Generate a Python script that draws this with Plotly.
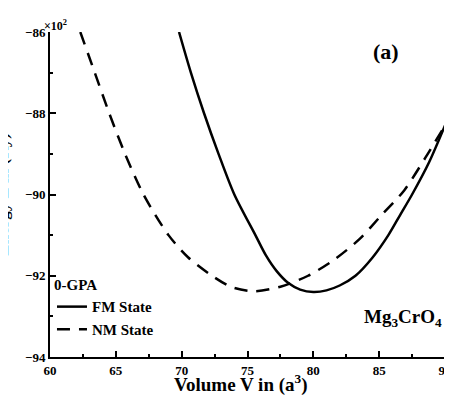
import plotly.graph_objects as go

# FM state (solid)
fm_volume = [69.8, 70.7, 71.7, 72.8, 74.0, 75.6, 76.4, 77.2, 78.1, 79.0, 80.0, 81.0, 82.0, 83.2, 84.5, 85.7, 86.6, 87.5, 88.8, 90.0]
fm_energy = [-86.0, -87.0, -88.0, -89.0, -90.0, -91.0, -91.5, -91.88, -92.18, -92.34, -92.40, -92.36, -92.24, -92.0, -91.55, -91.0, -90.5, -90.0, -89.2, -88.3]

# NM state (dashed)
nm_volume = [62.3, 63.4, 64.5, 65.7, 67.1, 69.0, 70.5, 72.3, 73.8, 75.5, 77.5, 79.6, 81.6, 83.5, 85.2, 86.9, 88.5, 90.0]
nm_energy = [-86.0, -87.0, -88.0, -89.0, -90.0, -91.0, -91.55, -92.0, -92.28, -92.38, -92.27, -92.0, -91.6, -91.1, -90.5, -89.9, -89.1, -88.3]

x_ticks = [60, 65, 70, 75, 80, 85, 90]
y_ticks = [-94, -92, -90, -88, -86]

FONT = "Liberation Serif"

fig = go.Figure()
fig.add_trace(go.Scatter(x=fm_volume, y=fm_energy, mode="lines", name="FM State",
                         line=dict(color="black", width=2.5, shape="spline", smoothing=0.8)))
fig.add_trace(go.Scatter(x=nm_volume, y=nm_energy, mode="lines", name="NM State",
                         line=dict(color="black", width=2.5, dash="13px,9px", shape="spline", smoothing=0.8)))

axis_common = dict(showgrid=False, zeroline=False, showline=True, linecolor="black", linewidth=2,
                   ticks="inside", tickcolor="black", tickwidth=2, ticklen=6,
                   tickfont=dict(family=FONT, size=13, color="black", weight="bold"),
                   minor=dict(ticks="inside", ticklen=3, tickwidth=1.5, tickcolor="black"))

fig.update_xaxes(range=[60, 90], tickvals=x_ticks, ticktext=[f"<b>{v}</b>" for v in x_ticks],
                 minor_dtick=2.5, minor_tick0=60, **axis_common)
fig.update_yaxes(range=[-94, -86], tickvals=y_ticks, ticktext=[f"<b>\u2212{abs(v)}</b>" for v in y_ticks],
                 minor_dtick=1, minor_tick0=-94, **axis_common)

# x-axis title
fig.add_annotation(x=0.483, y=-0.083, xref="paper", yref="paper", xanchor="center", yanchor="middle",
                   text="Volume V in (a<sup>3</sup>)", showarrow=False,
                   font=dict(family=FONT, size=19, color="black", weight="bold"))
# y-axis title (mostly beyond the left edge, as in the reference)
fig.add_annotation(x=-0.092, y=0.5, xref="paper", yref="paper", xanchor="right", yanchor="middle",
                   text="Energy E in (Ry)", textangle=-90, showarrow=False,
                   font=dict(family=FONT, size=17, color="black", weight="bold"))
fig.add_annotation(x=0.0, y=1.0, xref="paper", yref="paper", xanchor="left", yanchor="bottom",
                   text="\u00d710<sup>2</sup>", showarrow=False, yshift=-3, xshift=-8,
                   font=dict(family=FONT, size=12, color="black", weight="bold"))
fig.add_annotation(x=0.851, y=0.94, xref="paper", yref="paper", xanchor="center", yanchor="middle",
                   text="(a)", showarrow=False,
                   font=dict(family=FONT, size=22, color="black", weight="bold"))
fig.add_annotation(x=0.997, y=0.12, xref="paper", yref="paper", xanchor="right", yanchor="middle",
                   text="Mg<sub>3</sub>CrO<sub>4</sub>", showarrow=False,
                   font=dict(family=FONT, size=19, color="black", weight="bold"))

fig.update_layout(
    width=452, height=396,
    margin=dict(l=42, r=8, t=24, b=47),
    paper_bgcolor="white", plot_bgcolor="white",
    showlegend=True,
    legend=dict(x=0.005, y=0.265, xanchor="left", yanchor="top",
                title=dict(text="0-GPA", font=dict(family=FONT, size=15, color="black", weight="bold")),
                font=dict(family=FONT, size=15, color="black", weight="bold"),
                bgcolor="rgba(0,0,0,0)", itemwidth=30, tracegroupgap=0),
)

fig.write_html("out.html")
